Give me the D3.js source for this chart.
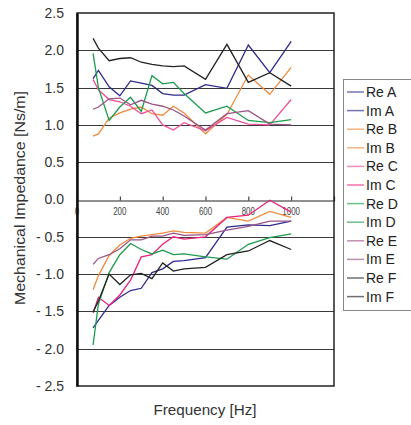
<!DOCTYPE html>
<html>
<head>
<meta charset="utf-8">
<script src="https://cdn.jsdelivr.net/npm/d3@7"></script>
<style>
  body { margin: 0; background: #fff; }
  svg text { font-family: "Liberation Sans", Arial, sans-serif; }
</style>
</head>
<body>
<div id="chart"></div>
<script>
// frequencies in Hz
var freqs = [75, 100, 150, 200, 250, 300, 350, 400, 450, 500, 600, 700, 800, 900, 1000];

// real parts (upper half) and imaginary parts (lower half), Ns/m
var reA = [1.62, 1.73, 1.51, 1.39, 1.59, 1.56, 1.53, 1.42, 1.40, 1.40, 1.54, 1.49, 2.07, 1.70, 2.12];
var imA = [-1.72, -1.62, -1.42, -1.31, -1.22, -1.19, -0.98, -0.93, -0.83, -0.82, -0.78, -0.37, -0.34, -0.35, -0.29];
var reB = [0.85, 0.88, 1.09, 1.16, 1.21, 1.24, 1.15, 1.13, 1.25, 1.16, 0.88, 1.14, 1.67, 1.41, 1.77];
var imB = [-1.21, -1.02, -0.75, -0.61, -0.52, -0.49, -0.47, -0.45, -0.42, -0.44, -0.45, -0.24, -0.29, -0.16, -0.24];
var reC = [1.61, 1.47, 1.34, 1.31, 1.25, 1.15, 1.20, 1.00, 0.93, 1.03, 0.92, 1.10, 1.01, 1.00, 1.34];
var imC = [-1.52, -1.31, -1.42, -1.28, -1.08, -0.77, -0.74, -0.60, -0.50, -0.53, -0.50, -0.24, -0.21, -0.01, -0.17];
var reD = [1.96, 1.50, 1.06, 1.24, 1.37, 1.18, 1.66, 1.55, 1.57, 1.42, 1.16, 1.25, 1.06, 1.03, 1.07];
var imD = [-1.95, -1.40, -0.98, -0.74, -0.59, -0.67, -0.73, -0.68, -0.74, -0.73, -0.77, -0.80, -0.60, -0.51, -0.46];
var reE = [1.21, 1.24, 1.35, 1.36, 1.27, 1.33, 1.28, 1.25, 1.20, 1.12, 0.93, 1.15, 1.19, 1.01, 1.00];
var imE = [-0.87, -0.79, -0.74, -0.66, -0.54, -0.54, -0.49, -0.49, -0.45, -0.48, -0.47, -0.41, -0.36, -0.29, -0.29];
var reF = [2.16, 2.03, 1.86, 1.89, 1.90, 1.84, 1.81, 1.79, 1.78, 1.79, 1.61, 2.08, 1.57, 1.70, 1.52];
var imF = [-1.51, -1.36, -1.00, -1.14, -1.01, -0.99, -1.06, -0.85, -0.96, -0.93, -0.91, -0.74, -0.69, -0.55, -0.67];

var seriesNames = ["Re A", "Im A", "Re B", "Im B", "Re C", "Im C", "Re D", "Im D", "Re E", "Im E", "Re F", "Im F"];
var seriesValues = [reA, imA, reB, imB, reC, imC, reD, imD, reE, imE, reF, imF];
var seriesColors = ["#2e2a8e", "#2e2a8e", "#f08a3c", "#f08a3c", "#ee4f98", "#e8237c",
                    "#1c9c4c", "#1c9c4c", "#9a5485", "#9a5485", "#222222", "#222222"];

var yTicks = [2.5, 2.0, 1.5, 1.0, 0.5, 0.0, -0.5, -1.0, -1.5, -2.0, -2.5];
var xTicks = [0, 200, 400, 600, 800, 1000];

var width = 411, height = 425;
var plot = {left: 77, right: 334, top: 13, bottom: 386};

var svg = d3.select("#chart").append("svg")
    .attr("width", width)
    .attr("height", height);

var x = d3.scaleLinear().domain([0, 1200]).range([plot.left, plot.right]);
var y = d3.scaleLinear().domain([-2.5, 2.5]).range([plot.bottom, plot.top]);

// horizontal gridlines
svg.append("g")
  .selectAll("line")
  .data(yTicks.filter(function(d) { return d > -2.5 && d < 2.5 && d !== 0; }))
  .enter().append("line")
    .attr("x1", plot.left)
    .attr("x2", plot.right)
    .attr("y1", function(d) { return Math.round(y(d)) + 0.5; })
    .attr("y2", function(d) { return Math.round(y(d)) + 0.5; })
    .attr("stroke", "#3a3a3a")
    .attr("stroke-width", 1.2);

// frame
svg.append("rect")
    .attr("x", plot.left)
    .attr("y", plot.top)
    .attr("width", plot.right - plot.left)
    .attr("height", plot.bottom - plot.top)
    .attr("fill", "none")
    .attr("stroke", "#222")
    .attr("stroke-width", 1.5);

// x axis on the zero line, ticks pointing up
var xAxis = svg.append("g")
    .attr("transform", "translate(0," + (Math.round(y(0)) + 0.5) + ")")
    .call(d3.axisTop(x).tickValues(xTicks).tickSize(4).tickFormat(""));
xAxis.select(".domain").attr("stroke", "#222").attr("stroke-width", 1.2);
xAxis.selectAll(".tick line").attr("stroke", "#222");

svg.append("g")
  .selectAll("text")
  .data(xTicks)
  .enter().append("text")
    .attr("x", function(d) { return x(d); })
    .attr("y", y(0) + 16)
    .attr("text-anchor", "middle")
    .attr("font-size", 11)
    .attr("fill", "#444")
    .attr("transform", function(d) { return "translate(" + x(d) + ",0) scale(0.72,1) translate(" + (-x(d)) + ",0)"; })
    .text(function(d) { return d; });

// y axis
var yAxis = svg.append("g")
    .attr("transform", "translate(" + plot.left + ",0)")
    .call(d3.axisLeft(y).tickValues(yTicks).tickSize(0).tickPadding(13)
      .tickFormat(function(d) {
        var s = d3.format(".1f")(Math.abs(d));
        return d < 0 ? "- " + s : s;
      }));
yAxis.select(".domain").attr("stroke", "#111").attr("stroke-width", 2.5);
yAxis.selectAll(".tick text")
    .attr("font-size", 14)
    .attr("fill", "#333")
    .attr("font-family", "Liberation Sans, Arial, sans-serif");

// series lines
var line = d3.line()
    .x(function(d, i) { return x(freqs[i]); })
    .y(function(d) { return y(d); });

svg.append("g")
  .selectAll("path")
  .data(seriesValues)
  .enter().append("path")
    .attr("d", line)
    .attr("fill", "none")
    .attr("stroke", function(d, i) { return seriesColors[i]; })
    .attr("stroke-width", 1.3);

// axis titles (condensed like the original)
svg.append("text")
    .attr("transform", "translate(25,198) rotate(-90)")
    .attr("text-anchor", "middle")
    .attr("font-size", 15)
    .attr("fill", "#333")
    .attr("textLength", 214)
    .attr("lengthAdjust", "spacingAndGlyphs")
    .text("Mechanical Impedance [Ns/m]");

svg.append("text")
    .attr("x", 205)
    .attr("y", 415)
    .attr("text-anchor", "middle")
    .attr("font-size", 15)
    .attr("fill", "#333")
    .attr("textLength", 103)
    .attr("lengthAdjust", "spacingAndGlyphs")
    .text("Frequency [Hz]");

// legend
var legend = svg.append("g");
legend.append("rect")
    .attr("x", 343.5)
    .attr("y", 79.5)
    .attr("width", 80)
    .attr("height", 231)
    .attr("fill", "#fff")
    .attr("stroke", "#888");

var items = legend.selectAll("g.item")
  .data(seriesNames)
  .enter().append("g")
    .attr("class", "item")
    .attr("transform", function(d, i) { return "translate(0," + (92 + i * 18.6) + ")"; });

items.append("line")
    .attr("x1", 347)
    .attr("x2", 364)
    .attr("stroke", function(d, i) { return seriesColors[i]; })
    .attr("stroke-opacity", 0.65)
    .attr("stroke-width", 1.5);

items.append("text")
    .attr("x", 366)
    .attr("y", 5)
    .attr("font-size", 14)
    .attr("fill", "#222")
    .text(function(d) { return d; });
</script>
</body>
</html>
